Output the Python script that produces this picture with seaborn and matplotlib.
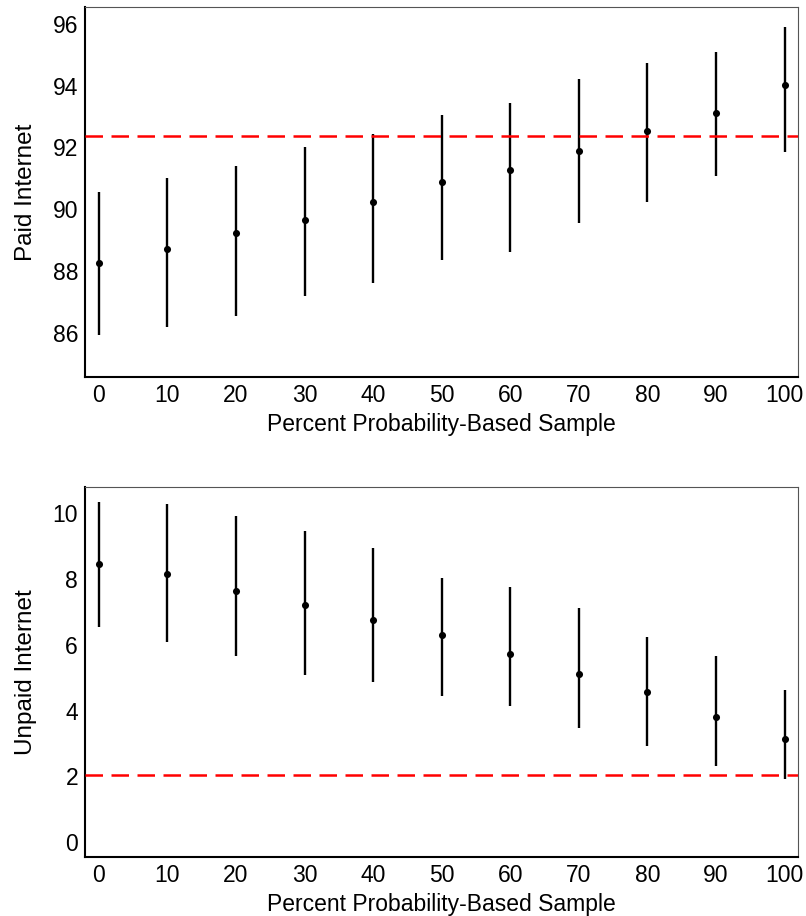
import numpy as np
import pandas as pd
import matplotlib
matplotlib.use("Agg")
import matplotlib.pyplot as plt
import seaborn as sns

pct = [0, 10, 20, 30, 40, 50, 60, 70, 80, 90, 100]

paid_est = [88.26, 88.70, 89.21, 89.66, 90.22, 90.88, 91.26, 91.89, 92.53, 93.10, 94.01]
paid_lo = [85.91, 86.18, 86.53, 87.18, 87.61, 88.35, 88.62, 89.56, 90.22, 91.08, 91.84]
paid_hi = [90.56, 91.02, 91.39, 92.00, 92.45, 93.05, 93.45, 94.21, 94.72, 95.10, 95.89]
paid_ref = 92.37

unpaid_est = [8.45, 8.15, 7.64, 7.22, 6.75, 6.30, 5.73, 5.13, 4.56, 3.80, 3.13]
unpaid_lo = [6.53, 6.08, 5.65, 5.07, 4.86, 4.46, 4.13, 3.46, 2.94, 2.31, 1.92]
unpaid_hi = [10.35, 10.28, 9.93, 9.45, 8.95, 8.04, 7.75, 7.11, 6.24, 5.67, 4.63]
unpaid_ref = 2.05

paid_yticks = [86, 88, 90, 92, 94, 96]
unpaid_yticks = [0, 2, 4, 6, 8, 10]
xticks = pct

sns.set_style("white")
plt.rcParams['font.family'] = ['Liberation Sans', 'DejaVu Sans']

fig = plt.figure(figsize=(8.06, 9.16), dpi=100)
ax1 = fig.add_axes([0.1055, 0.5885, 0.885, 0.4035])
ax2 = fig.add_axes([0.1055, 0.0644, 0.885, 0.4035])

def draw(ax, est, lo, hi, ref, ylabel, yticks, ylim):
    df = pd.DataFrame({"x": pct, "y": est, "lo": lo, "hi": hi})
    ax.vlines(df["x"], df["lo"], df["hi"], color="black", linewidth=1.7, zorder=2)
    sns.scatterplot(data=df, x="x", y="y", ax=ax, color="black", s=26,
                    edgecolor="black", linewidth=0, zorder=3)
    ax.axhline(ref, color="#ff0000", linewidth=1.8, dashes=(7, 3.4), zorder=4)
    ax.set_xlim(-2, 102)
    ax.set_ylim(*ylim)
    ax.set_xticks(xticks)
    ax.set_yticks(yticks)
    ax.tick_params(axis="both", length=0, labelsize=16.5, pad=5,
                   colors="black", labelcolor="black")
    ax.set_xlabel("Percent Probability-Based Sample", fontsize=16.5,
                  labelpad=4.5, color="black")
    ax.set_ylabel(ylabel, fontsize=17.5, labelpad=11, color="black")
    for side in ["left", "bottom"]:
        ax.spines[side].set_color("black")
        ax.spines[side].set_linewidth(1.5)
    for side in ["top", "right"]:
        ax.spines[side].set_color("#555555")
        ax.spines[side].set_linewidth(0.8)
        ax.spines[side].set_visible(True)

draw(ax1, paid_est, paid_lo, paid_hi, paid_ref, "Paid Internet", paid_yticks, (84.56, 96.54))
draw(ax2, unpaid_est, unpaid_lo, unpaid_hi, unpaid_ref, "Unpaid Internet", unpaid_yticks, (-0.45, 10.79))

fig.savefig("out.png", dpi=100)
